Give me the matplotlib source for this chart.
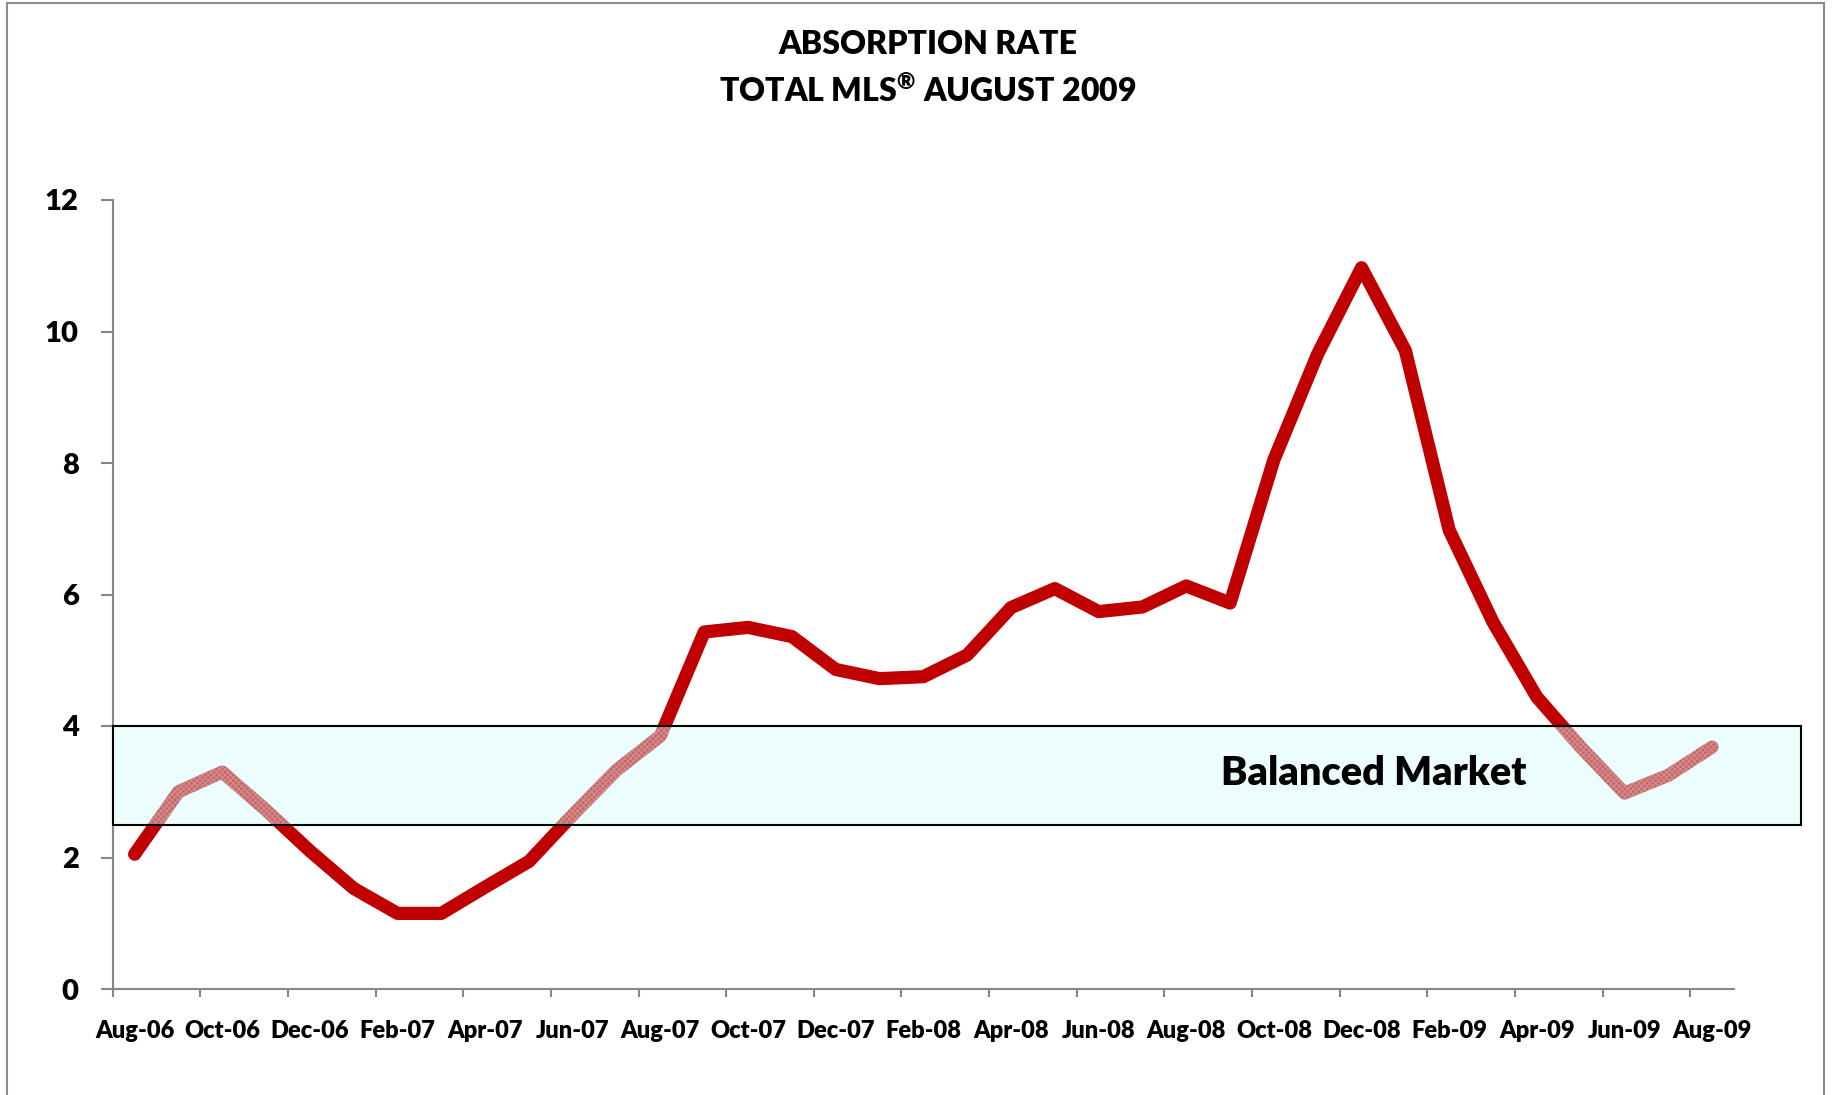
import numpy as np
import matplotlib as mpl
mpl.use('Agg')
import matplotlib.pyplot as plt
from matplotlib.patches import Rectangle

#----- DATA -----
months = ['Aug-06', 'Sep-06', 'Oct-06', 'Nov-06', 'Dec-06', 'Jan-07', 'Feb-07', 'Mar-07',
          'Apr-07', 'May-07', 'Jun-07', 'Jul-07', 'Aug-07', 'Sep-07', 'Oct-07', 'Nov-07',
          'Dec-07', 'Jan-08', 'Feb-08', 'Mar-08', 'Apr-08', 'May-08', 'Jun-08', 'Jul-08',
          'Aug-08', 'Sep-08', 'Oct-08', 'Nov-08', 'Dec-08', 'Jan-09', 'Feb-09', 'Mar-09',
          'Apr-09', 'May-09', 'Jun-09', 'Jul-09', 'Aug-09']
absorption = [2.05, 3.0, 3.3, 2.72, 2.1, 1.53, 1.15, 1.15, 1.55, 1.94, 2.65, 3.33,
              3.85, 5.43, 5.5, 5.36, 4.86, 4.72, 4.75, 5.08, 5.8, 6.09, 5.74, 5.81,
              6.13, 5.87, 8.05, 9.66, 10.97, 9.71, 6.98, 5.58, 4.44, 3.68, 2.98, 3.25, 3.68]
balanced_low = 2.5
balanced_high = 4.0
yticks = [0, 2, 4, 6, 8, 10, 12]

#-----------------------------------------
WT = 'heavy'
plt.rcParams['font.family'] = ['Lato', 'DejaVu Sans']
plt.rcParams['font.weight'] = WT
plt.rcParams['mathtext.fontset'] = 'custom'
plt.rcParams['mathtext.rm'] = 'Lato:heavy'

W, H = 1833, 1095
fig = plt.figure(figsize=(W / 100, H / 100), dpi=100)
ax = fig.add_axes([112.7 / W, 1 - 989 / H, (1734 - 112.7) / W, (989 - 200) / H])

x = np.arange(len(months))
red = '#c00000'
grey = '#868686'

ax.plot(x, absorption, color=red, lw=9.5, solid_capstyle='round',
        solid_joinstyle='round', zorder=2)

# balanced market band (runs past the axis end, like the original)
band_w = 38.53
ax.add_patch(Rectangle((-0.5, balanced_low), band_w, balanced_high - balanced_low,
                       facecolor=(0.82, 0.98, 0.98, 0.4), edgecolor='none',
                       clip_on=False, zorder=3))
ax.add_patch(Rectangle((-0.5, balanced_low), band_w, balanced_high - balanced_low,
                       fill=False, edgecolor=(0.95, 1.0, 1.0, 0.25), lw=0, hatch='xxxxxx',
                       clip_on=False, zorder=3))
ax.add_patch(Rectangle((-0.5, balanced_low), band_w, balanced_high - balanced_low,
                       fill=False, edgecolor='black', lw=1.5, clip_on=False, zorder=4))
ax.text(28.29, 3.27, 'Balanced Market', fontsize=28.5, fontweight=WT,
        ha='center', va='center', zorder=5)

ax.set_xlim(-0.5, len(months) - 0.5)
ax.set_ylim(0, 12)

for s in ['top', 'right']:
    ax.spines[s].set_visible(False)
for s in ['left', 'bottom']:
    ax.spines[s].set_color(grey)
    ax.spines[s].set_linewidth(1.5)

ax.set_yticks(yticks)
ax.set_yticklabels([str(v) for v in yticks], fontsize=21, fontweight=WT)
ax.tick_params(axis='y', length=8.5, width=1.5, color=grey, pad=16)

# tick marks between categories, labels centred on every other month
ax.set_xticks(np.arange(-0.5, len(months) - 1, 2))
ax.set_xticklabels([])
ax.tick_params(axis='x', which='major', length=6, width=1.5, color=grey)
ax.set_xticks(x[::2], minor=True)
ax.set_xticklabels(months[::2], minor=True, fontsize=17, fontweight=WT)
ax.tick_params(axis='x', which='minor', length=0, pad=22)

fig.text(0.506, 1 - 44 / H, 'ABSORPTION RATE', fontsize=23, fontweight=WT,
         ha='center', va='center')
fig.text(0.506, 1 - 90 / H, 'TOTAL MLS$^{\\mathrm{\u00ae}}$ AUGUST 2009',
         fontsize=23, fontweight=WT, ha='center', va='center')

fig.add_artist(Rectangle((7 / W, -0.05), (1824 - 7) / W, 1.05 - 3.5 / H,
                         transform=fig.transFigure, fill=False,
                         edgecolor='#8c8c8c', lw=1.5))

fig.savefig('out.png')
plt.close(fig)
